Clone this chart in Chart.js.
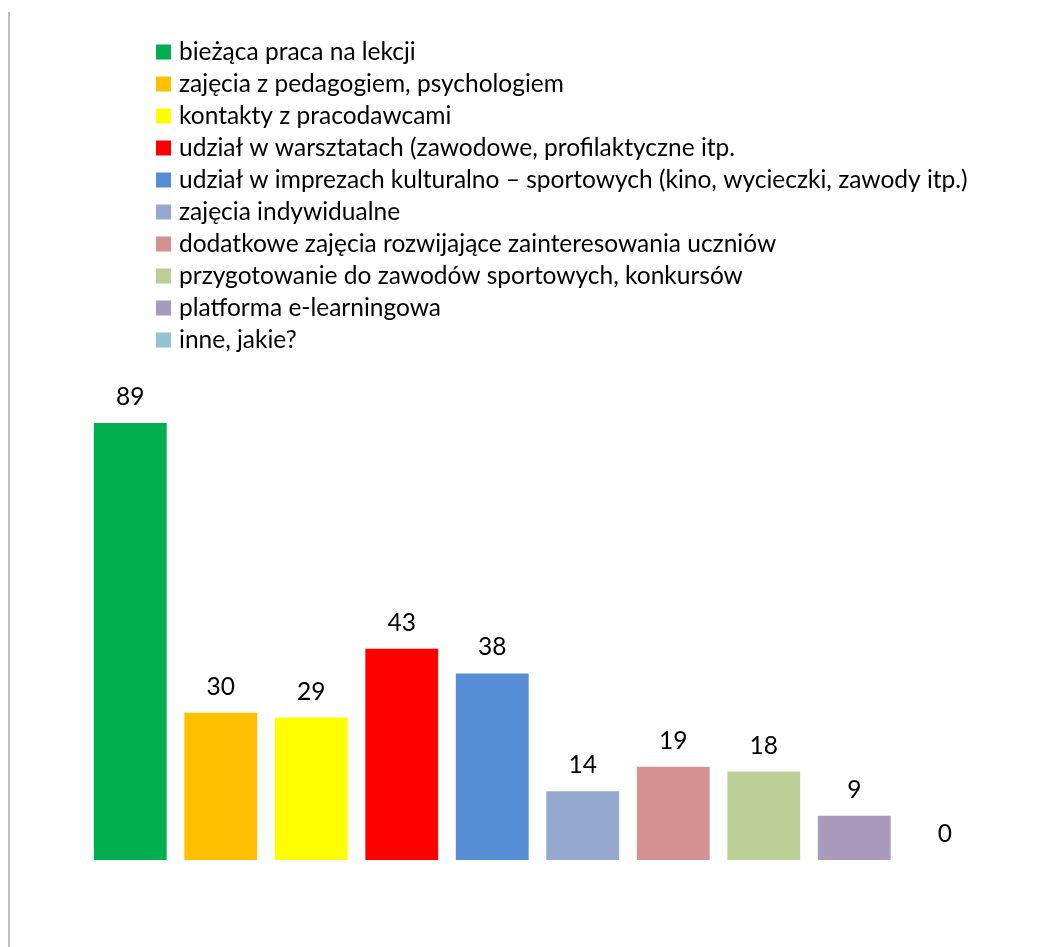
<!DOCTYPE html>
<html>
<head>
<meta charset="utf-8">
<script src="https://cdn.jsdelivr.net/npm/chart.js@4.4.0/dist/chart.umd.min.js"></script>
<style>
  html, body { margin: 0; padding: 0; background: #fff; }
  #wrap { width: 1051px; height: 947px; }
</style>
</head>
<body>
<div id="wrap"><canvas id="chart" width="1051" height="947"></canvas></div>
<script>
const categories = [
  'bieżąca praca na lekcji',
  'zajęcia z pedagogiem, psychologiem',
  'kontakty z pracodawcami',
  'udział w warsztatach (zawodowe, profilaktyczne itp.',
  'udział w imprezach kulturalno – sportowych (kino, wycieczki, zawody itp.)',
  'zajęcia indywidualne',
  'dodatkowe zajęcia rozwijające zainteresowania uczniów',
  'przygotowanie do zawodów sportowych, konkursów',
  'platforma e-learningowa',
  'inne, jakie?'
];
const values = [89, 30, 29, 43, 38, 14, 19, 18, 9, 0];
const colors = ['#00B050', '#FFC000', '#FFFF00', '#FF0000', '#558ED5',
                '#95A8D0', '#D39290', '#BBCF96', '#A99BBD', '#93C4D4'];

const FONT = "Lato, 'Open Sans', sans-serif";

// lewa szara linia + legenda rysowana w pionie
const customDraw = {
  id: 'customDraw',
  beforeDraw(chart) {
    const ctx = chart.ctx;
    ctx.save();
    ctx.fillStyle = '#bfbfbf';
    ctx.fillRect(8, 12, 2, chart.height - 12);

    ctx.font = '24.5px ' + FONT;
    ctx.textBaseline = 'middle';
    ctx.textAlign = 'left';
    categories.forEach((c, i) => {
      const y = 52 + i * 32;
      ctx.fillStyle = colors[i];
      ctx.fillRect(156, y - 7.5, 15, 15);
      ctx.fillStyle = '#000';
      ctx.fillText(c, 179, y);
    });
    ctx.restore();
  },
  afterDatasetsDraw(chart) {
    const ctx = chart.ctx;
    const meta = chart.getDatasetMeta(0);
    ctx.save();
    ctx.font = '24.5px ' + FONT;
    ctx.fillStyle = '#000';
    ctx.textAlign = 'center';
    ctx.textBaseline = 'middle';
    meta.data.forEach((bar, i) => {
      ctx.fillText(String(values[i]), bar.x, bar.y - 26);
    });
    ctx.restore();
  }
};

new Chart(document.getElementById('chart'), {
  type: 'bar',
  data: {
    labels: categories,
    datasets: [{
      data: values,
      backgroundColor: colors,
      borderWidth: 0,
      categoryPercentage: 1,
      barPercentage: 0.805
    }]
  },
  options: {
    responsive: false,
    animation: false,
    layout: { padding: { top: 369, bottom: 87, left: 85, right: 61 } },
    plugins: {
      legend: { display: false },
      tooltip: { enabled: false }
    },
    scales: {
      x: { display: false },
      y: { display: false, min: 0, max: 100 }
    }
  },
  plugins: [customDraw]
});
</script>
</body>
</html>
